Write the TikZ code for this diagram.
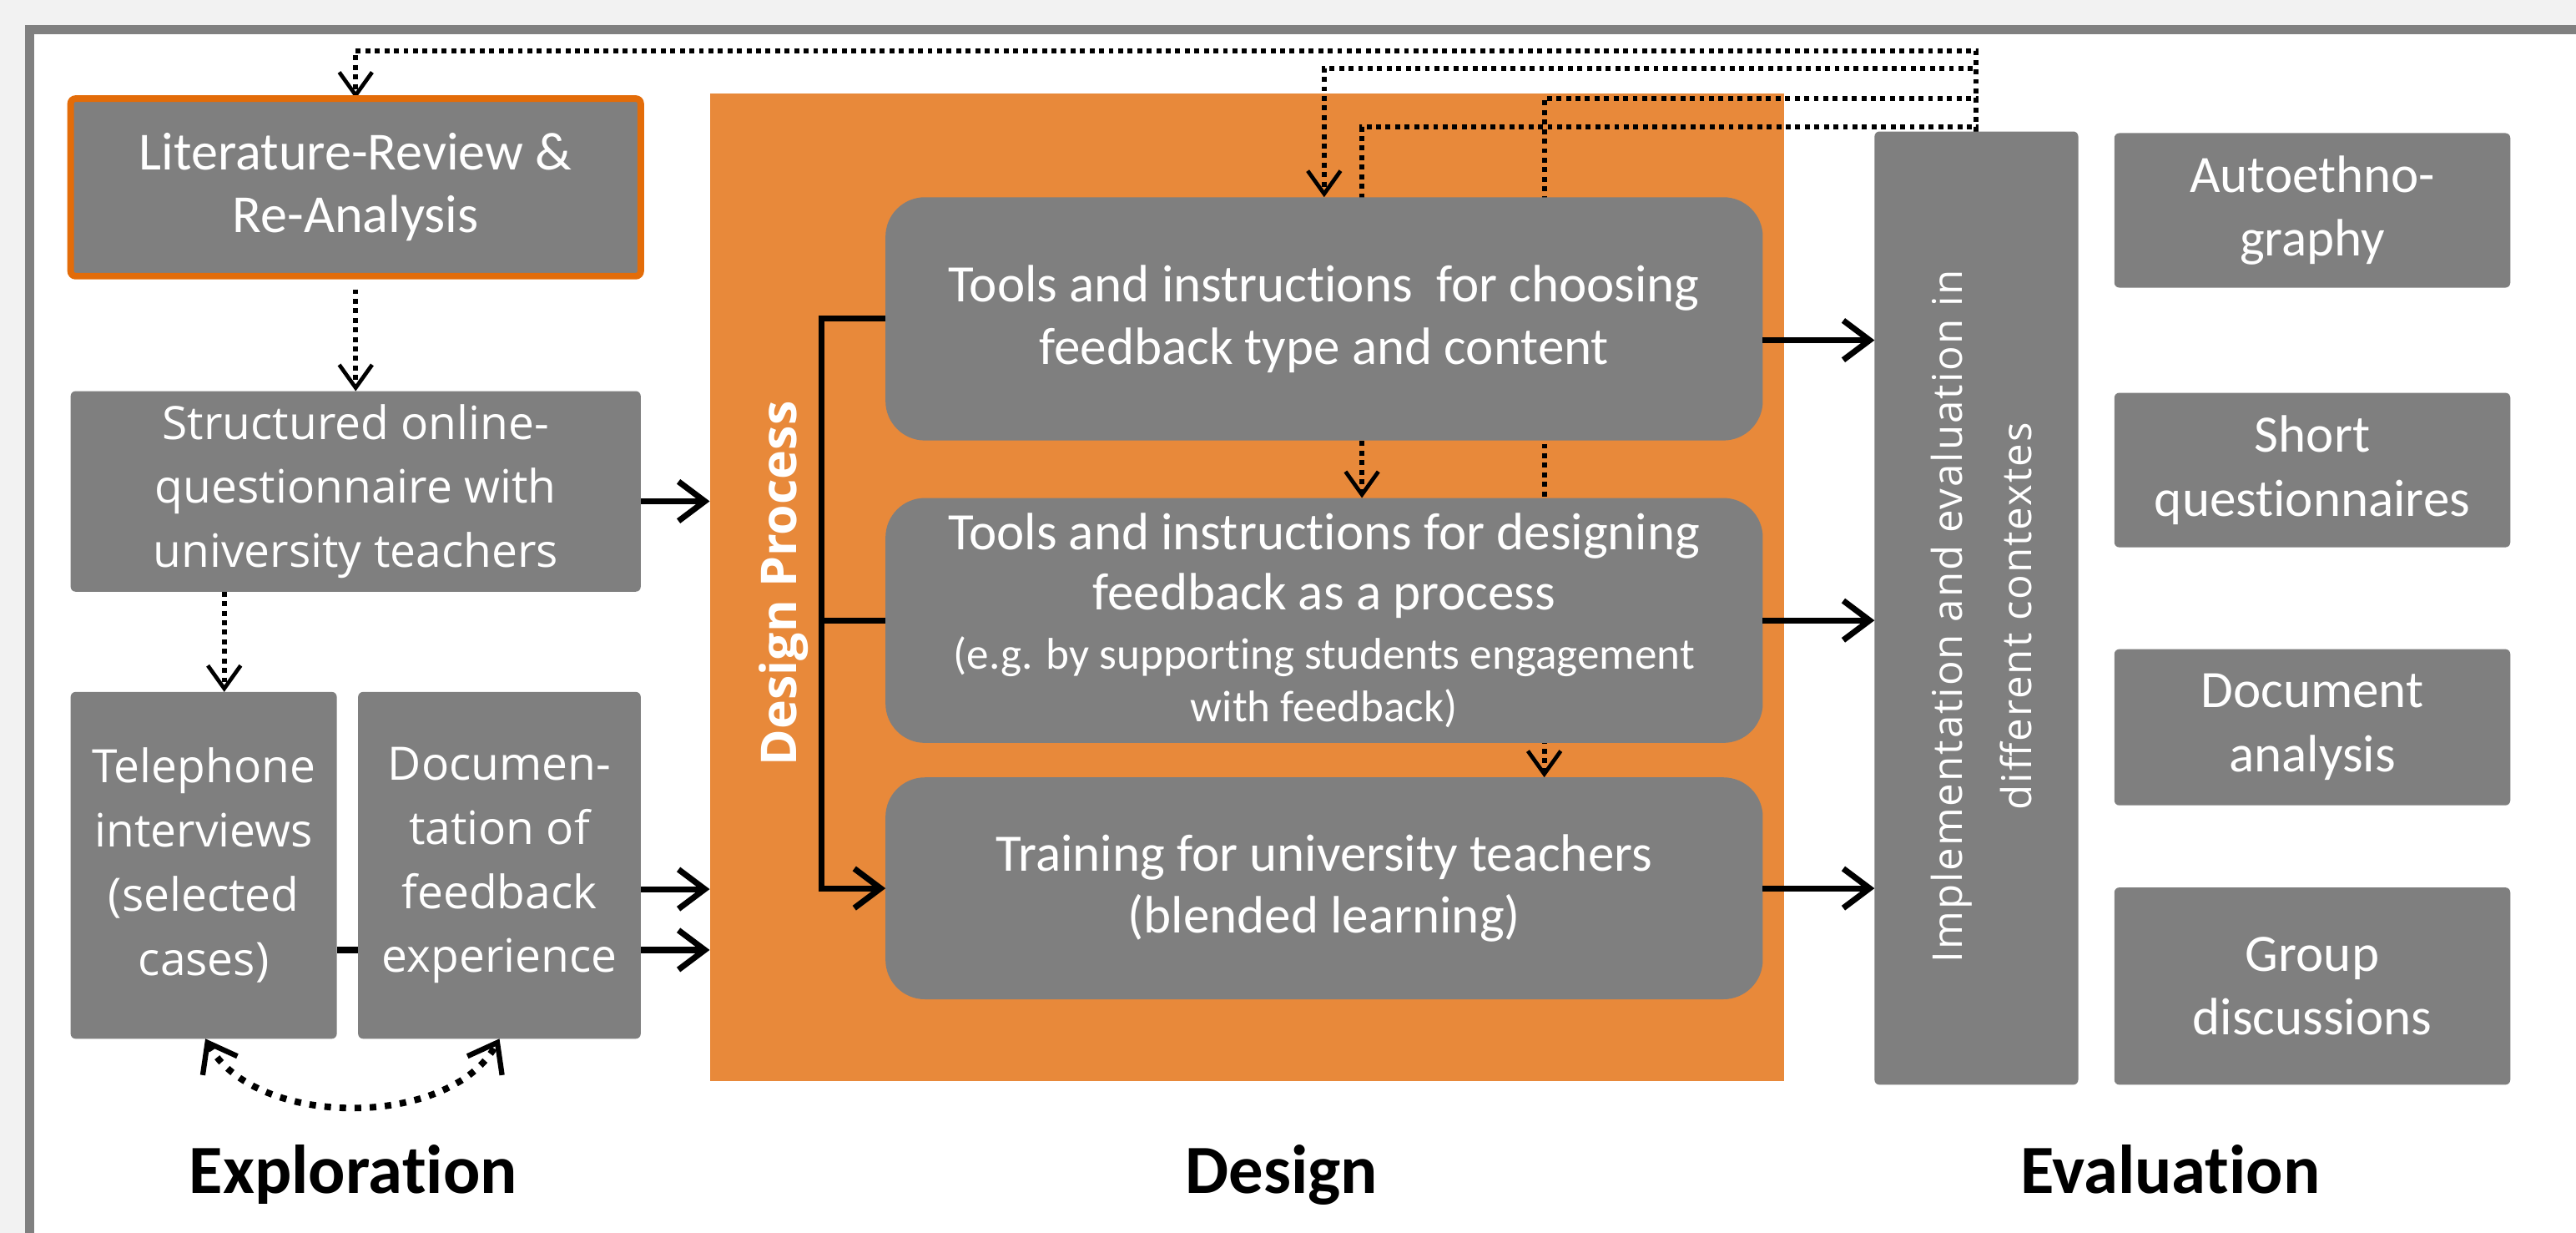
\documentclass[tikz,border=0pt]{standalone}
\usepackage{fontspec}
\setmainfont{Carlito}[Ligatures=NoCommon]
\newfontfamily\opensans{Open Sans}
\newfontfamily\opensanswide{Open Sans}[LetterSpace=4]
\usetikzlibrary{arrows.meta}

\definecolor{boxgray}{HTML}{7F7F7F}
\definecolor{framegray}{HTML}{808080}
\definecolor{areaorange}{HTML}{E8893A}
\definecolor{litorange}{HTML}{E36C09}
\definecolor{pagebg}{HTML}{F2F2F2}

\pgfdeclarelayer{backdrop}
\pgfdeclarelayer{wires}
\pgfsetlayers{backdrop,wires,main}

\tikzset{
  graybox/.style={fill=boxgray, text=white, align=center, inner sep=0pt, outer sep=0pt, rounded corners=1.5pt},
  calibri/.style={font=\fontsize{16.3}{19}\selectfont},
  segoe/.style={font=\opensans\fontsize{14}{19.5}\selectfont},
  stepbox/.style={graybox, rounded corners=12pt, minimum width=267pt, font=\fontsize{16}{19}\selectfont},
  evalbox/.style={graybox, minimum width=120.5pt, font=\fontsize{16}{19.5}\selectfont},
  flowarrow/.style={line width=1.8pt, -{Straight Barb[length=8pt,width=12pt,line width=1.8pt]}},
  joinline/.style={line width=1.8pt},
  backarrow/.style={line width=1.5pt, dash pattern=on 1.5pt off 1.4pt, -{Straight Barb[length=7pt,width=10pt,line width=1.2pt]}},
  swaparc/.style={line width=2pt, dash pattern=on 2pt off 2.6pt,
    {Straight Barb[length=8pt,width=12pt,line width=1.6pt]}-{Straight Barb[length=8pt,width=12pt,line width=1.6pt]}},
  phaselabel/.style={font=\bfseries\fontsize{21}{25}\selectfont, anchor=base, inner sep=0pt},
}

\begin{document}
\begin{tikzpicture}[x=0.5pt,y=-0.5pt]
\useasboundingbox (0,0) rectangle (1568,750);

% page, frame and the orange design area
\begin{pgfonlayer}{backdrop}
  \fill[pagebg] (0,0) rectangle (1568,750);
  \fill[white] (18,18) rectangle (1572,754);
  \draw[framegray, line width=3pt] (1572,18) -- (18,18) -- (18,754);
  \node[fill=areaorange, minimum width=327pt, minimum height=300.5pt, inner sep=0pt, outer sep=0pt] (area) at (759,357.5) {};
\end{pgfonlayer}

% exploration
\node[graybox, draw=litorange, line width=2pt, minimum width=173.5pt, minimum height=54pt, calibri] (lit) at (216.5,114) {Literature-Review \&\\Re-Analysis};
\node[graybox, segoe, minimum width=173.5pt, minimum height=61pt] (survey) at (216.5,299) {Structured online-\\questionnaire with\\university teachers};
\node[graybox, segoe, minimum width=81pt, minimum height=105.5pt] (tel) at (124,526.5) {Telephone\\interviews\\(selected\\cases)};
\node[graybox, segoe, minimum width=86pt, minimum height=105.5pt] (doc) at (304,526.5) {Documen-\\tation of\\feedback\\experience};

% design
\node[rotate=90, text=white, font=\opensans\bfseries\fontsize{15}{18}\selectfont, inner sep=0pt] (dplabel) at (477,355) {Design Process};
\node[stepbox, minimum height=74pt] (d1) at (806,194) {Tools and instructions~ for choosing\\feedback type and content};
\node[stepbox, minimum height=74.5pt, font=\fontsize{16}{18.5}\selectfont] (d2) at (806,377.5) {Tools and instructions for designing\\feedback as a process\\[-0.5pt]{\fontsize{13.5}{16}\selectfont (e.g. by supporting students engagement}\\[-2.5pt]{\fontsize{13.5}{16}\selectfont with feedback)}};
\node[stepbox, minimum height=67.5pt] (d3) at (806,540.5) {Training for university teachers\\(blended learning)};

% evaluation
\node[graybox, minimum width=62pt, minimum height=290pt] (impl) at (1203,370) {};
\node[rotate=90, text=white, align=center, font=\opensanswide\fontsize{12.5}{21}\selectfont, inner sep=0pt] (impltext) at (1206,375) {Implementation and evaluation in\\different contextes};
\node[evalbox, minimum height=47pt] (e1) at (1407.5,128) {Autoethno-\\graphy};
\node[evalbox, minimum height=47pt] (e2) at (1407.5,286) {Short\\questionnaires};
\node[evalbox, minimum height=47.5pt] (e3) at (1407.5,442.5) {Document\\analysis};
\node[evalbox, minimum height=60pt] (e4) at (1407.5,600) {Group\\discussions};

% phase captions
\node[phaselabel] (lexp) at (215,726) {Exploration};
\node[phaselabel] (ldes) at (780,726) {Design};
\node[phaselabel] (leva) at (1321,726) {Evaluation};

% exploration flow
\draw[backarrow] ([yshift=-4pt]lit.south) -- (survey.north);
\draw[backarrow] ([xshift=-40pt]survey.south) -- ([xshift=6.25pt]tel.north);
\draw[joinline] ([yshift=-25.75pt]tel.east) -- ([yshift=-25.75pt]doc.west);
\draw[swaparc] ([xshift=0.5pt]tel.south) .. controls +(30,55) and +(-30,55) .. (doc.south);
\draw[flowarrow] ([yshift=-3pt]survey.east) -- ([yshift=-3pt]survey.east -| area.west);
\draw[flowarrow] ([yshift=-7.25pt]doc.east) -- ([yshift=-7.25pt]doc.east -| area.west);
\draw[flowarrow] ([yshift=-25.75pt]doc.east) -- ([yshift=-25.75pt]doc.east -| area.west);

% design process bracket
\coordinate (spine) at (500,0);
\draw[flowarrow] (d1.west) -| (spine |- d3.west) -- (d3.west);
\draw[joinline] (spine |- d2.west) -- (d2.west);

% into implementation
\draw[flowarrow] ([yshift=-6.5pt]d1.east) -- ([yshift=-6.5pt]d1.east -| impl.west);
\draw[flowarrow] (d2.east) -- (d2.east -| impl.west);
\draw[flowarrow] (d3.east) -- (d3.east -| impl.west);

% feedback loops, running behind the design boxes
\begin{pgfonlayer}{wires}
  \draw[backarrow] (impl.north) -- ++(0,-49) -| (lit.north);
  \draw[backarrow] (impl.north) -- ++(0,-38.5) -| (d1.north);
  \draw[backarrow] (impl.north) -- ++(0,-20) -| ([xshift=67pt]d3.north);
  \draw[backarrow] (impl.north) -- ++(0,-3) -| ([xshift=11.5pt]d2.north);
\end{pgfonlayer}
\end{tikzpicture}
\end{document}
